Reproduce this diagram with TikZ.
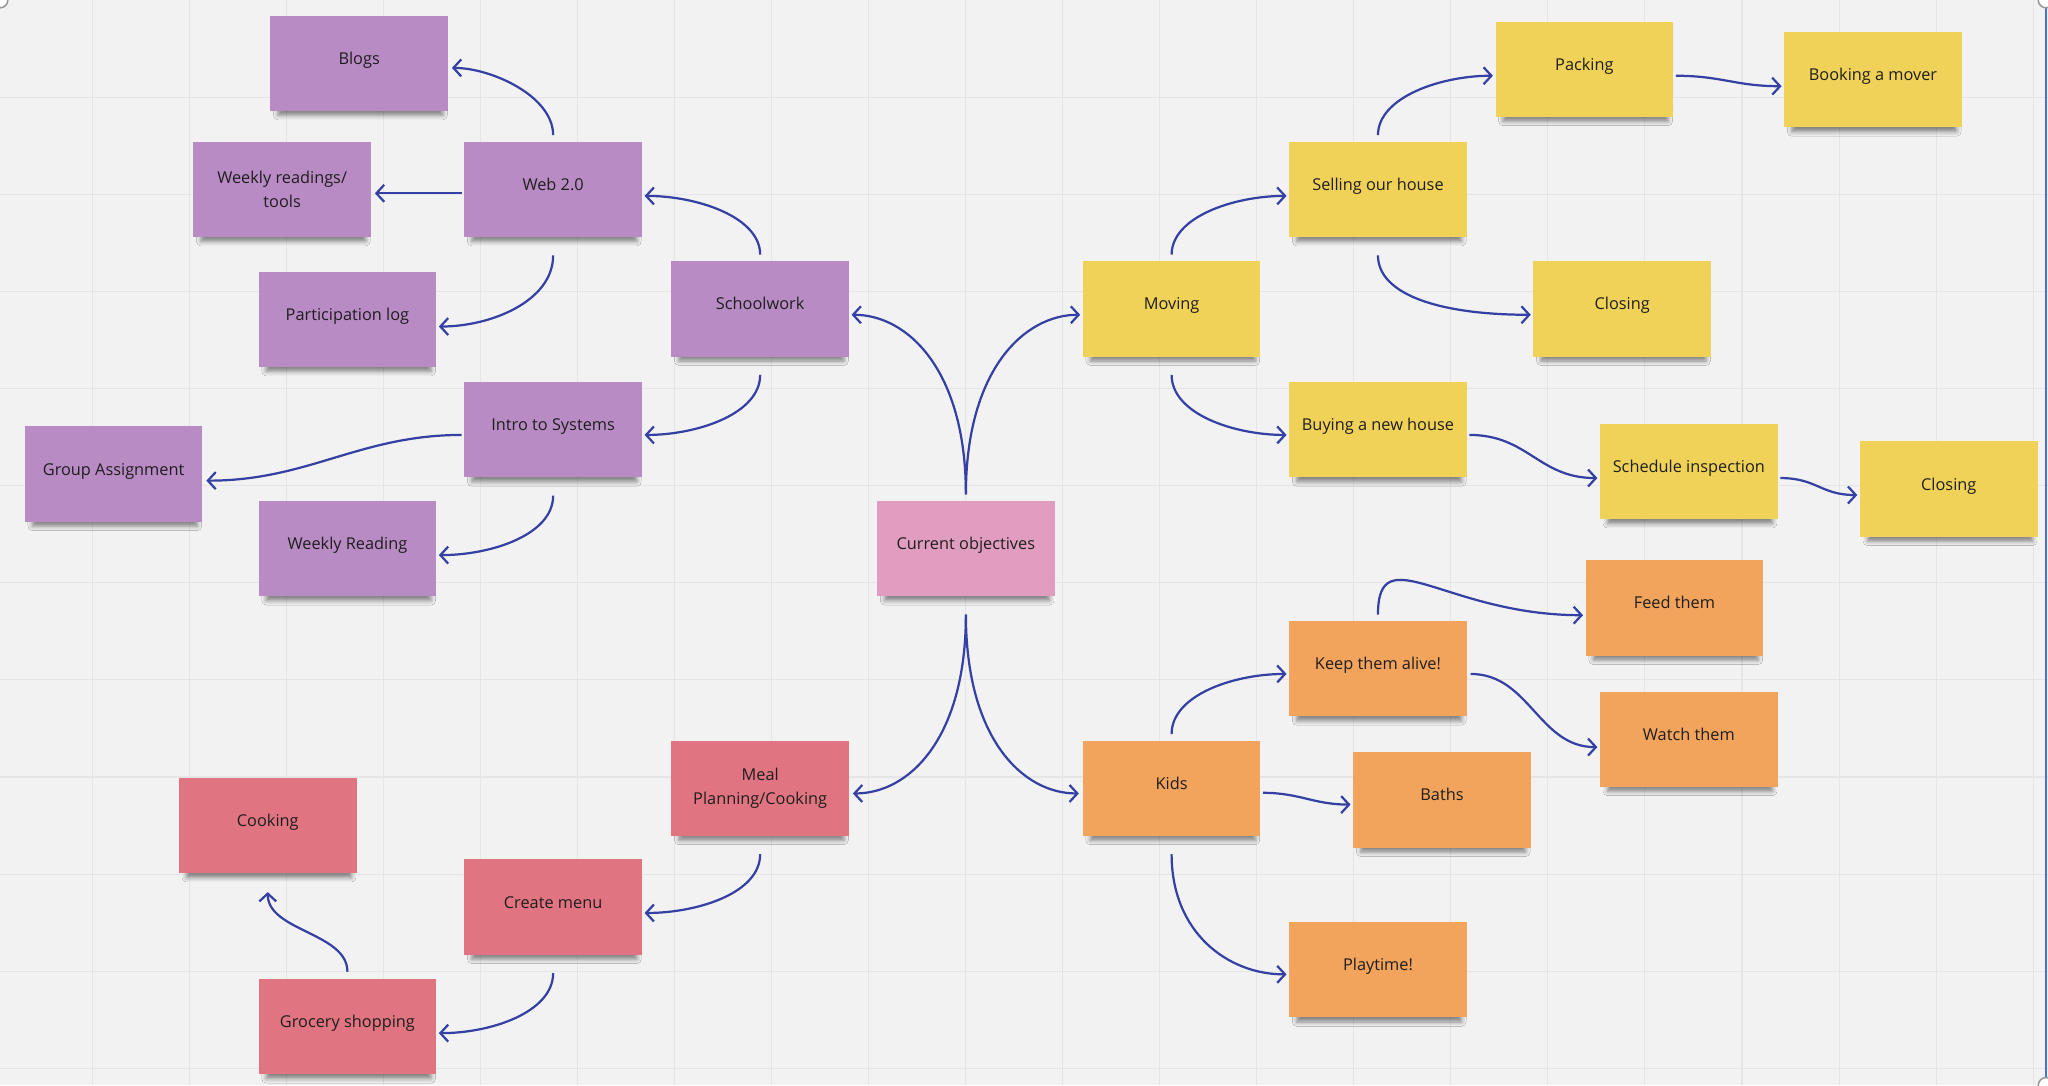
\documentclass[tikz,border=0pt]{standalone}
\usepackage{fontspec}
\setmainfont{Open Sans}
\usetikzlibrary{arrows.meta,shadows.blur}
\definecolor{bgc}{HTML}{F2F2F2}
\definecolor{gridc}{HTML}{E5E5E5}
\definecolor{purpc}{HTML}{B98BC4}
\definecolor{pinkc}{HTML}{E09DBF}
\definecolor{redc}{HTML}{E07480}
\definecolor{yelc}{HTML}{F0D258}
\definecolor{orac}{HTML}{F2A35C}
\definecolor{txtc}{HTML}{1E1E1E}
\definecolor{arrowc}{HTML}{3440A3}
\definecolor{selc}{HTML}{4A6FD8}
\begin{document}
\begin{tikzpicture}[x=1pt,y=1pt,
  sticky/.style={rectangle, minimum width=136pt, minimum height=73pt, inner sep=2pt, outer sep=0pt,
    text=txtc, font=\fontsize{12.5}{18}\selectfont, align=center,
    blur shadow={shadow xshift=1pt, shadow yshift=-6.5pt, shadow blur radius=3.5pt, shadow opacity=45, shadow scale=0.93}},
  oneline/.style={text height=9.5pt, text depth=8pt},
  pnote/.style={sticky, fill=purpc},
  knote/.style={sticky, fill=pinkc},
  rnote/.style={sticky, fill=redc},
  ynote/.style={sticky, fill=yelc},
  onote/.style={sticky, fill=orac},
  conn/.style={draw=arrowc, line width=1.7pt, -{Straight Barb[length=6pt,width=13pt]}},
  gridline/.style={draw=gridc, line width=0.8pt},
  handle/.style={draw=gray!80, fill=white, line width=1.2pt}
]
\useasboundingbox (0,0) rectangle (1568,831);
\fill[bgc] (0,0) rectangle (1568,831);
% grid
\foreach \k in {0,...,20} { \draw[gridline] (70.6+74.3*\k,0) -- (70.6+74.3*\k,831); }
\foreach \k in {0,...,10} { \draw[gridline] (0,831-74.8-74.3*\k) -- (1568,831-74.8-74.3*\k); }
% selection frame
\draw[selc, line width=1.3pt] (1566.5,0) -- (1566.5,831);
\draw[handle] (0,831) circle (6pt);
\draw[handle] (1566.5,831) circle (6pt);
\draw[handle] (1566.5,0) circle (6pt);

% purple
\node[pnote,oneline] (blogs)  at (275,782.5) {Blogs};
\node[pnote,oneline] (web)    at (423.5,686) {Web 2.0};
\node[pnote]         (weekly) at (216,686) {Weekly readings/\\tools};
\node[pnote,oneline] (part)   at (266,586.5) {Participation log};
\node[pnote,oneline] (school) at (582,594.5) {Schoolwork};
\node[pnote,oneline] (intro)  at (423.5,502) {Intro to Systems};
\node[pnote,oneline] (group)  at (87,468) {Group Assignment};
\node[pnote,oneline] (wread)  at (266,411) {Weekly Reading};
% centre
\node[knote,oneline] (cur)    at (739.5,411) {Current objectives};
% red
\node[rnote]         (meal)   at (582,227.5) {Meal\\Planning/Cooking};
\node[rnote,oneline] (cook)   at (205,199) {Cooking};
\node[rnote,oneline] (menu)   at (423.5,136.5) {Create menu};
\node[rnote,oneline] (groc)   at (266,45) {Grocery shopping};
% yellow
\node[ynote,oneline] (moving)   at (897,594.5) {Moving};
\node[ynote,oneline] (selling)  at (1055,686) {Selling our house};
\node[ynote,oneline] (packing)  at (1213,778) {Packing};
\node[ynote,oneline] (mover)    at (1434,770) {Booking a mover};
\node[ynote,oneline] (closeA)   at (1242,594.5) {Closing};
\node[ynote,oneline] (buying)   at (1055,502) {Buying a new house};
\node[ynote,oneline] (sched)    at (1293,470) {Schedule inspection};
\node[ynote,oneline] (closeB)   at (1492,456.5) {Closing};
% orange
\node[onote,oneline] (kids)   at (897,227.5) {Kids};
\node[onote,oneline] (alive)  at (1055,319) {Keep them alive!};
\node[onote,oneline] (feed)   at (1282,365.5) {Feed them};
\node[onote,oneline] (watch)  at (1293,265) {Watch them};
\node[onote,oneline] (baths)  at (1104,218.5) {Baths};
\node[onote,oneline] (play)   at (1055,88.5) {Playtime!};

% connectors from the centre
\draw[conn] ([yshift=5pt]cur.north) to[out=90,in=0,out distance=95pt,in distance=43pt] ([xshift=2pt,yshift=-4.5pt]school.east);
\draw[conn] ([yshift=5pt]cur.north) to[out=90,in=180,out distance=95pt,in distance=43pt] ([xshift=-2pt,yshift=-4.5pt]moving.west);
\draw[conn] ([yshift=-14pt]cur.south) to[out=-90,in=0,out distance=95pt,in distance=43pt] ([xshift=3pt,yshift=-4pt]meal.east);
\draw[conn] ([yshift=-14pt]cur.south) to[out=-90,in=180,out distance=95pt,in distance=43pt] ([xshift=-3pt,yshift=-4pt]kids.west);

% schoolwork branch
\draw[conn] ([yshift=5pt]school.north) to[out=90,in=0,out distance=29pt,in distance=40pt] ([xshift=2pt,yshift=-5pt]web.east);
\draw[conn] ([yshift=5pt]web.north) to[out=90,in=0,out distance=30pt,in distance=30pt] ([xshift=3pt,yshift=-3.5pt]blogs.east);
\draw[conn] ([xshift=-2pt,yshift=-3pt]web.west) -- ([xshift=3pt,yshift=-3pt]weekly.east);
\draw[conn] ([yshift=-14pt]web.south) to[out=-90,in=0,out distance=35pt,in distance=40pt] ([xshift=2pt,yshift=-5.5pt]part.east);
\draw[conn] ([yshift=-14pt]school.south) to[out=-90,in=0,out distance=30pt,in distance=40pt] ([xshift=2pt,yshift=-4pt]intro.east);
\draw[conn] ([xshift=-2pt,yshift=-4pt]intro.west) to[out=180,in=0,out distance=78pt,in distance=78pt] ([xshift=3pt,yshift=-5pt]group.east);
\draw[conn] ([yshift=-14pt]intro.south) to[out=-90,in=0,out distance=30pt,in distance=40pt] ([xshift=2pt,yshift=-5pt]wread.east);

% meal branch
\draw[conn] ([yshift=-14pt]meal.south) to[out=-90,in=0,out distance=30pt,in distance=40pt] ([xshift=2pt,yshift=-4.5pt]menu.east);
\draw[conn] ([yshift=-14pt]menu.south) to[out=-90,in=0,out distance=30pt,in distance=40pt] ([xshift=2pt,yshift=-5pt]groc.east);
\draw[conn] ([yshift=5.5pt]groc.north) to[out=90,in=-90,out distance=30pt,in distance=30pt] ([yshift=-14.5pt]cook.south);

% moving branch
\draw[conn] ([yshift=5pt]moving.north) to[out=90,in=180,out distance=29pt,in distance=40pt] ([xshift=-2pt,yshift=-5pt]selling.west);
\draw[conn] ([yshift=5pt]selling.north) to[out=90,in=180,out distance=29pt,in distance=40pt] ([xshift=-2pt,yshift=-5pt]packing.west);
\draw[conn] ([xshift=2pt,yshift=-5pt]packing.east) to[out=0,in=180,out distance=35pt,in distance=35pt] ([xshift=-2pt,yshift=-5pt]mover.west);
\draw[conn] ([yshift=-14pt]selling.south) to[out=-90,in=180,out distance=30pt,in distance=70pt] ([xshift=-2pt,yshift=-4.5pt]closeA.west);
\draw[conn] ([yshift=-14pt]moving.south) to[out=-90,in=180,out distance=30pt,in distance=40pt] ([xshift=-2pt,yshift=-4pt]buying.west);
\draw[conn] ([xshift=2pt,yshift=-4pt]buying.east) to[out=0,in=180,out distance=45pt,in distance=45pt] ([xshift=-2pt,yshift=-5pt]sched.west);
\draw[conn] ([xshift=2pt,yshift=-5pt]sched.east) to[out=0,in=180,out distance=28pt,in distance=28pt] ([xshift=-2pt,yshift=-4.5pt]closeB.west);

% kids branch
\draw[conn] ([yshift=5pt]kids.north) to[out=90,in=180,out distance=30pt,in distance=40pt] ([xshift=-2pt,yshift=-4pt]alive.west);
\draw[conn] ([yshift=5pt]alive.north) to[out=90,in=180,out distance=60pt,in distance=105pt] ([xshift=-2pt,yshift=-5.5pt]feed.west);
\draw[conn] ([xshift=3pt,yshift=-4pt]alive.east) to[out=0,in=180,out distance=45pt,in distance=45pt] ([xshift=-2pt,yshift=-6pt]watch.west);
\draw[conn] ([xshift=2pt,yshift=-3.5pt]kids.east) to[out=0,in=180,out distance=28pt,in distance=28pt] ([xshift=-2pt,yshift=-3.5pt]baths.west);
\draw[conn] ([yshift=-14pt]kids.south) to[out=-90,in=180,out distance=60pt,in distance=45pt] ([xshift=-2pt,yshift=-3.5pt]play.west);
\end{tikzpicture}
\end{document}
